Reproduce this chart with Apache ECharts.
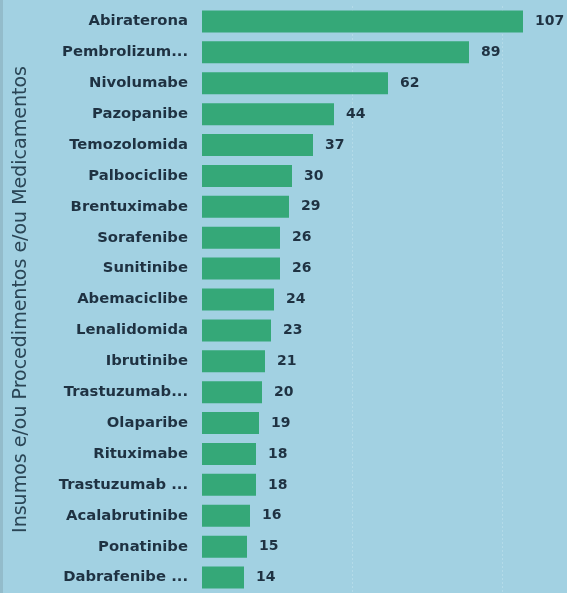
<!DOCTYPE html>
<html>
<head>
<meta charset="utf-8">
<script src="https://cdn.jsdelivr.net/npm/echarts@6/dist/echarts.min.js"></script>
<style>
html,body{margin:0;padding:0;background:#a2d1e2;}
#chart{width:567px;height:593px;}
</style>
</head>
<body>
<div id="chart"></div>
<script>
const categories = ["Abiraterona","Pembrolizum...","Nivolumabe","Pazopanibe","Temozolomida","Palbociclibe","Brentuximabe","Sorafenibe","Sunitinibe","Abemaciclibe","Lenalidomida","Ibrutinibe","Trastuzumab...","Olaparibe","Rituximabe","Trastuzumab ...","Acalabrutinibe","Ponatinibe","Dabrafenibe ..."];
const values = [107,89,62,44,37,30,29,26,26,24,23,21,20,19,18,18,16,15,14];
const axisTitle = "Insumos e/ou Procedimentos e/ou Medicamentos";

const chart = echarts.init(document.getElementById('chart'));
chart.setOption({
  backgroundColor: '#a2d1e2',
  animation: false,
  graphic: [{
    type: 'rect', left: 0, top: 0, shape: { width: 3, height: 593 },
    style: { fill: '#93bccb' }, silent: true
  }],
  grid: { left: 202, top: 6, width: 360, height: 592, containLabel: false },
  xAxis: {
    type: 'value', min: 0, max: 120, interval: 50,
    axisLabel: { show: false }, axisLine: { show: false }, axisTick: { show: false },
    splitLine: { show: true, showMinLine: false, showMaxLine: false, lineStyle: { color: '#b4dbe8', type: [2, 2], width: 1 } }
  },
  yAxis: {
    type: 'category', data: categories, inverse: true,
    axisLine: { show: false }, axisTick: { show: false },
    axisLabel: { margin: 14, color: '#1f3242', fontFamily: 'DejaVu Sans', fontWeight: 'bold', fontSize: 14.8 },
    name: axisTitle, nameLocation: 'middle', nameGap: 171,
    nameTextStyle: { color: '#2a4555', fontFamily: 'DejaVu Sans', fontSize: 19 }
  },
  series: [{
    type: 'bar', data: values, barWidth: 22,
    itemStyle: { color: '#35a878' },
    label: { show: true, position: 'right', distance: 12, color: '#1f3242', fontFamily: 'DejaVu Sans', fontWeight: 'bold', fontSize: 14 }
  }]
});
</script>
</body>
</html>
